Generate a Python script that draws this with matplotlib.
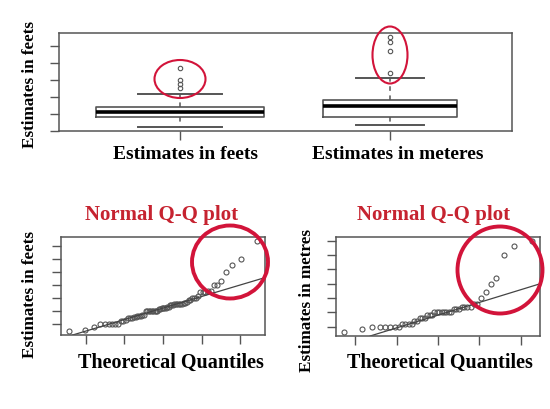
import numpy as np
import matplotlib
matplotlib.use("Agg")
import matplotlib.pyplot as plt
from matplotlib.patches import Ellipse
from matplotlib.transforms import ScaledTranslation
from statistics import NormalDist

# room width estimates (HSAUR roomwidth data)
feet = [24, 25, 27, 30, 30, 30, 30, 30, 30, 32, 32, 33, 34, 34, 34, 35, 35,
        36, 36, 36, 37, 37, 40, 40, 40, 40, 40, 40, 40, 40, 40, 41, 41, 42,
        42, 42, 42, 43, 43, 44, 44, 44, 45, 45, 45, 45, 45, 45, 46, 46, 47,
        48, 48, 50, 50, 50, 51, 54, 54, 54, 55, 55, 60, 60, 63, 70, 75, 80, 94]
metres = [8, 9, 10, 10, 10, 10, 10, 10, 11, 11, 11, 11, 12, 12, 13, 13, 13,
          14, 14, 14, 15, 15, 15, 15, 15, 15, 15, 15, 16, 16, 16, 17, 17, 17,
          17, 18, 18, 20, 22, 25, 27, 35, 38, 40]
m_to_ft = 3.28
box_names = ["Estimates in feets", "Estimates in meteres"]
qq_ylabels = ["Estimates in feets", "Estimates in metres"]
qq_yticks = [[30, 40, 50, 60, 70, 80, 90], [10, 15, 20, 25, 30, 35, 40]]
box_yticks = [20, 40, 60, 80, 100, 120]

W, H = 550, 409
GRAY = "#555555"
RED_RING = "#d2143a"
RED_TXT = "#c62330"
SERIF = ["Liberation Serif", "DejaVu Serif"]

fig = plt.figure(figsize=(5.5, 4.09), dpi=100)


def px_axes(left, top, right, bottom):
    return fig.add_axes([left / W, 1 - bottom / H, (right - left) / W, (bottom - top) / H])


def r_style(ax):
    for s in ax.spines.values():
        s.set_color(GRAY)
        s.set_linewidth(1.1)
    ax.tick_params(direction="out", length=6.5, width=1.0, color=GRAY)


def ring(cx, cy, w, h, lw):
    fig.patches.append(Ellipse((cx / W, 1 - cy / H), w / W, h / H, fill=False,
                               edgecolor=RED_RING, linewidth=lw,
                               transform=fig.transFigure))


def ftext(x, y, s, size, color="black", rot=0):
    fig.text(x / W, 1 - y / H, s, ha="center", va="center", rotation=rot,
             fontsize=size, fontweight="bold", color=color, family=SERIF)


# ---- top: boxplot (metres converted to feet) ----
ax = px_axes(59, 33, 512, 131)
groups = [np.array(feet, float), np.array(metres, float) * m_to_ft]
n = np.array([len(g) for g in groups])
widths = 0.8 * np.sqrt(n) / np.sqrt(n).max()
ax.boxplot(groups, positions=[1, 2], widths=widths, whis=1.5,
           boxprops=dict(color=GRAY, linewidth=1.2),
           medianprops=dict(color="black", linewidth=2.6),
           whiskerprops=dict(color=GRAY, linewidth=1.1, linestyle=(0, (3, 3))),
           capprops=dict(color=GRAY, linewidth=1.4), capwidths=widths / 2,
           flierprops=dict(marker="o", markersize=3.2, markerfacecolor="none",
                           markeredgecolor=GRAY, markeredgewidth=0.8))
lo = min(g.min() for g in groups)
hi = max(g.max() for g in groups)
ax.set_ylim(lo - 0.04 * (hi - lo), hi + 0.04 * (hi - lo))
ax.set_xlim(0.424, 2.581)
ax.set_yticks(box_yticks)
ax.set_yticklabels([])
ax.set_xticks([1, 2])
ax.set_xticklabels(box_names, fontsize=14, fontweight="bold", family=SERIF)
r_style(ax)
ax.tick_params(axis="x", pad=4)
# labels sit a little right of the box centres in the reference
for lab, dx in zip(ax.get_xticklabels(), [6, 8]):
    lab.set_transform(lab.get_transform() + ScaledTranslation(dx / 100, 0, fig.dpi_scale_trans))
ftext(30, 84, "Estimates in feets", 12.3, rot=90)
ring(180, 79, 51, 38, 1.5)
ring(390, 55, 35, 57, 1.5)

# ---- bottom: normal Q-Q plots ----
qq_boxes = [(61, 237, 265, 335), (336, 237, 540, 336)]
qq_data = [feet, metres]
for k, vals in enumerate(qq_data):
    ax = px_axes(*qq_boxes[k])
    y = np.sort(np.array(vals, float))
    m = len(y)
    a = 0.375 if m <= 10 else 0.5
    x = np.array([NormalDist().inv_cdf((i + 1 - a) / (m + 1 - 2 * a)) for i in range(m)])
    ax.plot(x, y, "o", markersize=3.6, markerfacecolor="none",
            markeredgecolor=GRAY, markeredgewidth=0.8)
    yq = np.percentile(y, [25, 75])
    xq = np.array([NormalDist().inv_cdf(0.25), NormalDist().inv_cdf(0.75)])
    slope = (yq[1] - yq[0]) / (xq[1] - xq[0])
    icpt = yq[0] - slope * xq[0]
    xr = x.max() - x.min()
    yr = y.max() - y.min()
    ax.set_xlim(x.min() - 0.04 * xr, x.max() + 0.04 * xr)
    ax.set_ylim(y.min() - 0.04 * yr, y.max() + 0.04 * yr)
    ax.axline((0, icpt), slope=slope, color="#444444", linewidth=0.9)
    ax.set_xticks([-2, -1, 0, 1, 2])
    ax.set_yticks(qq_yticks[k])
    ax.set_xticklabels([])
    ax.set_yticklabels([])
    r_style(ax)

ftext(162, 215, "Normal Q-Q plot", 15, color=RED_TXT)
ftext(434, 215, "Normal Q-Q plot", 15, color=RED_TXT)
ftext(171, 363, "Theoretical Quantiles", 14.5)
ftext(440, 363, "Theoretical Quantiles", 14.5)
ftext(30, 294, qq_ylabels[0], 12.3, rot=90)
ftext(307, 301, qq_ylabels[1], 12.3, rot=90)
ring(230, 262, 76, 73, 2.8)
ring(500, 270, 85, 87, 2.8)

fig.savefig("out.png", dpi=100)
